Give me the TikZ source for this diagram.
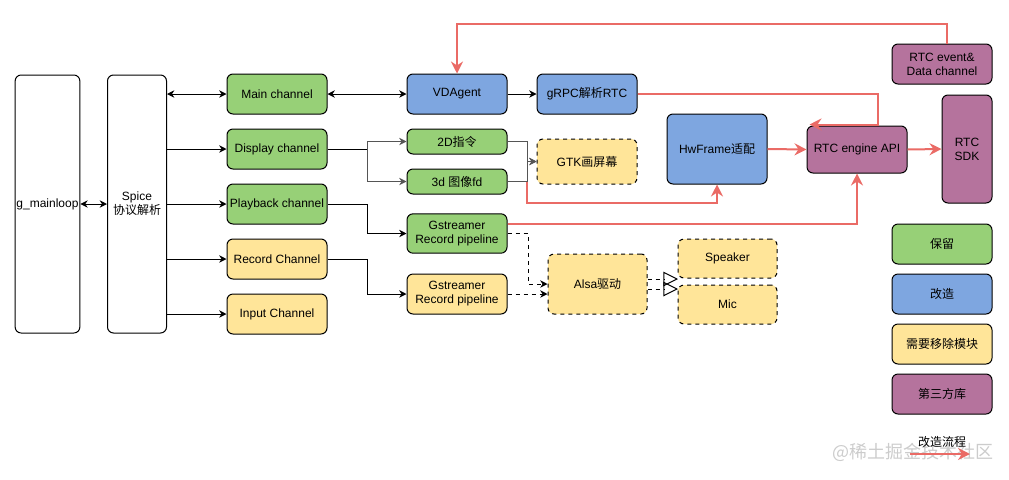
\documentclass[tikz,border=0pt]{standalone}
\usepackage{fontspec}
\setmainfont{Liberation Sans}
\newfontfamily\cjk{Noto Sans CJK SC}
\usetikzlibrary{arrows.meta}
\definecolor{cgreen}{HTML}{97D077}
\definecolor{cblue}{HTML}{7EA6E0}
\definecolor{cyellow}{HTML}{FFE599}
\definecolor{cpurple}{HTML}{B5739D}
\definecolor{cred}{HTML}{EA6B66}
\definecolor{cgray}{HTML}{555555}
\begin{document}
\begin{tikzpicture}[x=0.75pt,y=-0.75pt,
  font=\fontsize{9pt}{10.5pt}\selectfont,
  box/.style={draw=black, line width=0.75pt, rounded corners=4.5pt,
    minimum width=75pt, minimum height=30pt, inner sep=1pt, align=center},
  gbox/.style={box, fill=cgreen},
  bbox/.style={box, fill=cblue},
  ybox/.style={box, fill=cyellow},
  pbox/.style={box, fill=cpurple},
  dbox/.style={box, fill=cyellow, dashed},
  blk/.style={draw=black, line width=0.75pt, -{Stealth[length=5.5pt,width=5.5pt,inset=1.8pt]}},
  blk2/.style={draw=black, line width=0.75pt, {Stealth[length=5.5pt,width=5.5pt,inset=1.8pt]}-{Stealth[length=5.5pt,width=5.5pt,inset=1.8pt]}},
  gry/.style={draw=cgray, line width=0.75pt, -{Stealth[length=5.5pt,width=5.5pt,inset=1.8pt]}},
  dsh/.style={draw=black, line width=0.75pt, dashed, -{Stealth[length=5.5pt,width=5.5pt,inset=1.8pt]}},
  opn/.style={draw=black, line width=0.75pt, dashed, -{Triangle[open,length=11pt,width=11pt]}},
  rd/.style={draw=cred, line width=1.5pt, -{Stealth[length=9pt,width=9pt,inset=3pt]}},
]
\useasboundingbox (0,0) rectangle (1009,479);

% watermark
\node[text=gray!40, font=\cjk\fontsize{13.5pt}{14pt}\selectfont] (wm) at (913,452) {@稀土掘金技术社区};

% left columns
\node[box, minimum width=44.25pt, minimum height=193.5pt] (gml) at (47.5,204) {g\_mainloop};
\node[box, minimum width=44.25pt, minimum height=193.5pt] (spice) at (137,204) {Spice\\{\cjk 协议解析}};

% channels
\node[gbox] (main) at (277,94) {Main channel};
\node[gbox] (disp) at (277,149) {Display channel};
\node[gbox] (play) at (277,204) {Playback channel};
\node[ybox] (rec) at (277,259) {Record Channel};
\node[ybox] (inp) at (277,314) {Input Channel};

% middle
\node[bbox] (vda) at (457,94) {VDAgent};
\node[bbox] (grpc) at (587,94) {gRPC{\cjk 解析}RTC};
\node[gbox, minimum height=18.75pt] (d2) at (457,141.5) {2D{\cjk 指令}};
\node[gbox, minimum height=18.75pt] (d3) at (457,181.5) {3d {\cjk 图像}fd};
\node[dbox, minimum height=33.75pt] (gtk) at (587,161.5) {GTK{\cjk 画屏幕}};
\node[gbox, minimum height=29.5pt] (gs1) at (457,233.5) {Gstreamer\\Record pipeline};
\node[ybox] (gs2) at (457,294) {Gstreamer\\Record pipeline};
\node[dbox, minimum width=74.25pt, minimum height=45pt] (alsa) at (597.5,284) {Alsa{\cjk 驱动}};
\node[dbox, minimum width=74.25pt, minimum height=29.25pt] (spk) at (727.5,258.5) {Speaker};
\node[dbox, minimum width=74.25pt, minimum height=29.25pt] (mic) at (727.5,304.5) {Mic};

% right
\node[bbox, minimum height=52.5pt] (hw) at (717,149) {HwFrame{\cjk 适配}};
\node[pbox, minimum height=35.25pt] (eng) at (857,149.5) {RTC engine API};
\node[pbox, minimum width=37.5pt, minimum height=81pt] (sdk) at (967,149) {RTC\\SDK};
\node[pbox] (evt) at (942,64) {RTC event\&\\Data channel};

% legend
\node[gbox] (lg1) at (942,244) {\cjk 保留};
\node[bbox] (lg2) at (942,294) {\cjk 改造};
\node[ybox] (lg3) at (942,344) {\cjk 需要移除模块};
\node[pbox] (lg4) at (942,394) {\cjk 第三方库};
\node (lg5) at (942,442) {\cjk 改造流程};
\coordinate (la) at (910,454);
\coordinate (lb) at (970,454);
\draw[rd] (la) -- (lb);

% black connectors
\draw[blk2] (gml.east) -- (spice.west);
\draw[blk2] (spice.east |- main) -- (main.west);
\draw[blk] (spice.east |- disp) -- (disp.west);
\draw[blk] (spice.east |- play) -- (play.west);
\draw[blk] (spice.east |- rec) -- (rec.west);
\draw[blk] (spice.east |- inp) -- (inp.west);
\draw[blk2] (main.east) -- (vda.west);
\draw[blk] (vda.east) -- (grpc.west);

\coordinate (j1) at (367,149);
\draw[line width=0.75pt] (disp.east) -- (j1);
\draw[gry] (j1) |- (d2.west);
\draw[gry] (j1) |- (d3.west);
\coordinate (j2) at (527,161.5);
\draw[gry] (d2.east) -| (j2) -- (gtk.west);
\draw[gry] (d3.east) -| (j2) -- (gtk.west);

\draw[blk] (play.east) -- (367,204) |- (gs1.west);
\draw[blk] (rec.east) -- (367,259) |- (gs2.west);

\draw[dsh] (gs1.east) -- (528,233.5) |- (alsa.west);
\draw[dsh] (gs2.east) -- ([yshift=-7.5pt]alsa.west);
\coordinate (o1) at (678,279);
\coordinate (o2) at (678,289);
\draw[opn] ([yshift=3.75pt]alsa.east) -- (o1);
\draw[opn] ([yshift=-3.75pt]alsa.east) -- (o2);

% red connectors
\draw[rd] ([xshift=3.75pt]evt.north) -- ++(0,-20) -| (vda.north);
\draw[rd] (grpc.east) -| ([xshift=15.75pt,yshift=0.75pt]eng.north) -- ([xshift=2.25pt,yshift=0.75pt]eng.north west);
\draw[rd] (hw.east) -- (eng.west);
\draw[rd] (eng.east) -- (sdk.west);
\draw[rd] (527,181.5) -- (527,203) -| (hw.south);
\draw[rd] ([yshift=7.5pt]gs1.east) -| (eng.south);
\end{tikzpicture}
\end{document}
